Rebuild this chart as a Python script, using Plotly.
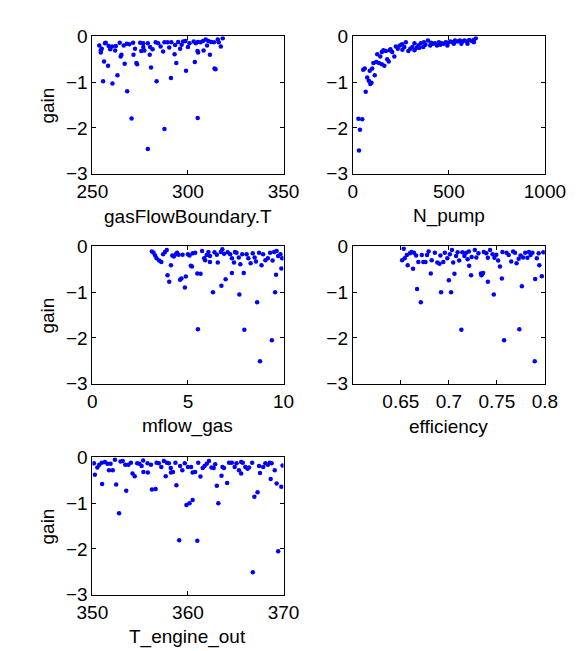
import plotly.graph_objects as go

# ---------------- data ----------------
gasT = [279.0, 270.5, 287.7, 305.1, 268.2, 255.6, 260.5, 263.1, 283.6, 291.1, 299.0, 313.9, 314.4,
        256.1, 258.2, 266.9, 273.0, 273.4, 280.7, 293.9, 303.6, 271.5, 264.8, 265.2, 311.5, 308.2,
        305.0, 305.3, 293.0, 280.0, 287.0,
        253.6, 254.4, 254.4, 254.9, 257.0, 258.5, 259.3, 260.3, 262.3, 261.9, 264.3, 266.4, 268.0,
        269.3, 271.3, 272.3, 275.0, 276.6, 275.6, 277.2, 279.0, 280.2, 281.5, 283.1, 284.4, 285.7,
        287.7, 289.3, 290.2, 291.3, 293.3, 294.9, 295.9, 297.5, 298.7, 300.0, 300.8, 303.0, 304.1,
        305.2, 306.6, 307.9, 309.3, 310.7, 312.1, 313.6, 315.6, 316.1, 317.2, 318.2, 276.6, 296.7,
        310.0, 256.6]
gain_gasT = [-2.46, -1.79, -2.02, -1.78, -1.20, -0.98, -1.03, -0.85, -0.98, -0.91, -0.75, -0.70, -0.72,
             -0.55, -0.64, -0.60, -0.58, -0.61, -0.68, -0.58, -0.56, -0.40, -0.44, -0.40, -0.40, -0.31,
             -0.32, -0.35, -0.39, -0.40, -0.33,
             -0.20, -0.30, -0.35, -0.27, -0.14, -0.21, -0.28, -0.22, -0.21, -0.31, -0.14, -0.20, -0.16,
             -0.17, -0.14, -0.27, -0.14, -0.15, -0.32, -0.31, -0.15, -0.23, -0.28, -0.13, -0.15, -0.22,
             -0.13, -0.13, -0.24, -0.13, -0.19, -0.12, -0.27, -0.11, -0.10, -0.23, -0.15, -0.11, -0.15,
             -0.12, -0.13, -0.10, -0.07, -0.10, -0.12, -0.13, -0.07, -0.13, -0.22, -0.04, -0.23, -0.18,
             -0.20, -0.15]

npump = [32, 37, 29, 49, 67, 54, 62, 75, 83, 91, 97, 114, 88, 101, 107, 122, 136, 151, 164, 127, 151,
         159, 179, 187, 192, 205, 216, 224, 234, 245, 258, 268, 276, 289, 299, 310, 321, 333, 341, 354,
         367, 378, 391, 403, 416, 427, 438, 448, 461, 472, 484, 495, 508, 519, 532, 545, 557, 570, 581,
         594, 606, 619, 630, 640, 370, 407, 455, 492, 526, 565, 597, 630, 196, 143, 172, 256, 321, 347]
gain_npump = [-2.49, -2.04, -1.80, -1.81, -1.21, -0.73, -0.70, -0.90, -0.97, -1.04, -1.01, -0.85, -0.75,
              -0.70, -0.58, -0.56, -0.58, -0.61, -0.64, -0.39, -0.34, -0.30, -0.50, -0.55, -0.30, -0.34,
              -0.44, -0.22, -0.27, -0.20, -0.29, -0.23, -0.13, -0.32, -0.27, -0.23, -0.15, -0.25, -0.20,
              -0.15, -0.23, -0.18, -0.09, -0.20, -0.16, -0.15, -0.20, -0.13, -0.15, -0.16, -0.13, -0.14,
              -0.11, -0.13, -0.09, -0.11, -0.09, -0.11, -0.09, -0.11, -0.08, -0.10, -0.08, -0.04, -0.13,
              -0.14, -0.18, -0.20, -0.16, -0.16, -0.16, -0.13, -0.28, -0.44, -0.32, -0.17, -0.30, -0.25]

mflow = [8.77, 9.39, 5.52, 7.95, 7.69, 8.62, 9.56, 6.31, 6.75, 6.97, 7.30, 7.92, 5.49, 5.66, 4.84, 4.59,
         4.66, 4.89, 3.93, 4.02, 4.11, 5.15, 5.21, 9.61, 9.89, 8.85, 7.74, 6.56, 6.15, 5.90, 3.61, 3.49,
         3.36, 3.28, 3.11, 3.20, 3.70, 3.80, 3.89, 4.18, 4.26, 4.36, 4.43, 4.51, 4.72, 5.00, 5.08, 5.25,
         5.38, 5.74, 5.85, 5.98, 6.15, 6.39, 6.51, 6.72, 6.80, 6.89, 7.08, 7.21, 7.30, 7.41, 7.54, 7.66,
         7.84, 8.07, 8.16, 8.28, 8.39, 8.49, 8.56, 8.72, 8.93, 9.05, 9.18, 9.30, 9.43, 9.51, 9.64, 9.72,
         9.84, 9.93, 6.07, 7.46]
gain_mflow = [-2.51, -2.05, -1.81, -1.82, -1.05, -1.22, -1.00, -1.00, -0.86, -0.72, -0.58, -0.58, -0.59,
              -0.60, -0.90, -0.73, -0.70, -0.66, -0.63, -0.77, -0.41, -0.42, -0.44, -0.62, -0.48, -0.41,
              -0.39, -0.35, -0.34, -0.30, -0.34, -0.31, -0.26, -0.20, -0.11, -0.14, -0.17, -0.12, -0.08,
              -0.20, -0.22, -0.17, -0.14, -0.18, -0.18, -0.17, -0.20, -0.15, -0.14, -0.10, -0.26, -0.19,
              -0.21, -0.13, -0.18, -0.12, -0.06, -0.16, -0.13, -0.17, -0.26, -0.35, -0.14, -0.24, -0.17,
              -0.17, -0.26, -0.37, -0.15, -0.24, -0.33, -0.14, -0.17, -0.30, -0.26, -0.14, -0.31, -0.12,
              -0.10, -0.21, -0.17, -0.26, -0.12, -0.12]

eff = [0.7894, 0.7575, 0.7130, 0.7734, 0.6708, 0.6669, 0.6919, 0.7023, 0.7468, 0.7760, 0.7899, 0.7968,
       0.7552, 0.7406, 0.7000, 0.6812, 0.7058, 0.7231, 0.7334, 0.7357, 0.7340, 0.7532, 0.7942, 0.7211,
       0.6627, 0.6571, 0.6513, 0.6540, 0.6530, 0.6562, 0.6594, 0.6610, 0.6636, 0.6659, 0.6682, 0.6718,
       0.6734, 0.6756, 0.6773, 0.6789, 0.6821, 0.6854, 0.6880, 0.6903, 0.6912, 0.6942, 0.6958, 0.6984,
       0.7010, 0.7032, 0.7045, 0.7075, 0.7091, 0.7107, 0.7140, 0.7162, 0.7179, 0.7195, 0.7208, 0.7237,
       0.7270, 0.7286, 0.7308, 0.7364, 0.7390, 0.7406, 0.7429, 0.7455, 0.7474, 0.7494, 0.7513, 0.7558,
       0.7601, 0.7623, 0.7649, 0.7669, 0.7688, 0.7705, 0.7727, 0.7747, 0.7773, 0.7795, 0.7818, 0.7834,
       0.7851, 0.7870, 0.7916, 0.7935, 0.7984]
gain_eff = [-2.51, -2.05, -1.82, -1.81, -1.22, -0.93, -1.00, -1.00, -1.05, -0.87, -0.71, -0.65, -0.70,
            -0.77, -0.74, -0.59, -0.60, -0.63, -0.59, -0.58, -0.63, -0.44, -0.41, -0.42, -0.49, -0.41,
            -0.30, -0.26, -0.05, -0.19, -0.15, -0.12, -0.14, -0.20, -0.34, -0.19, -0.34, -0.34, -0.19,
            -0.11, -0.30, -0.14, -0.35, -0.38, -0.20, -0.34, -0.14, -0.26, -0.17, -0.08, -0.35, -0.21,
            -0.13, -0.31, -0.13, -0.21, -0.14, -0.28, -0.11, -0.23, -0.08, -0.24, -0.15, -0.12, -0.15,
            -0.25, -0.08, -0.17, -0.25, -0.18, -0.31, -0.12, -0.14, -0.19, -0.33, -0.11, -0.14, -0.37,
            -0.27, -0.20, -0.24, -0.14, -0.25, -0.12, -0.19, -0.14, -0.26, -0.15, -0.13]

teng = [366.79, 369.44, 359.08, 360.98, 352.79, 359.84, 360.16, 360.49, 363.18, 366.95, 367.28, 356.23,
        356.62, 353.54, 351.02, 352.49, 358.79, 363.02, 364.10, 369.28, 369.77, 368.66, 350.26, 354.20,
        354.43, 357.67, 361.31, 363.51, 367.54, 365.57, 355.34, 355.80, 358.23, 360.49, 350.52, 350.16,
        350.72, 350.98, 351.31, 351.57, 351.74, 351.90, 352.13, 352.36, 352.95, 353.18, 353.44, 353.77,
        354.03, 354.69, 354.92, 355.15, 355.31, 355.77, 356.13, 356.72, 356.95, 357.21, 357.48, 357.80,
        358.00, 358.20, 358.43, 358.69, 359.18, 359.41, 359.67, 360.00, 360.33, 360.75, 361.08, 361.54,
        361.74, 361.97, 362.20, 362.46, 362.69, 362.85, 363.61, 363.77, 364.30, 364.59, 364.89, 365.08,
        365.34, 365.57, 365.74, 366.00, 366.23, 366.39, 366.72, 367.44, 367.87, 368.10, 368.36, 368.56,
        368.75, 369.08, 369.90]
gain_teng = [-2.51, -2.05, -1.81, -1.82, -1.22, -1.04, -1.00, -0.93, -1.00, -0.86, -0.76, -0.70, -0.69,
             -0.73, -0.58, -0.59, -0.61, -0.62, -0.56, -0.57, -0.64, -0.47, -0.38, -0.35, -0.41, -0.41,
             -0.42, -0.40, -0.34, -0.35, -0.32, -0.33, -0.33, -0.33, -0.22, -0.13, -0.16, -0.12, -0.10,
             -0.14, -0.28, -0.14, -0.28, -0.05, -0.09, -0.08, -0.16, -0.16, -0.12, -0.13, -0.14, -0.19,
             -0.07, -0.13, -0.16, -0.12, -0.13, -0.21, -0.08, -0.12, -0.13, -0.23, -0.32, -0.12, -0.19,
             -0.28, -0.13, -0.21, -0.21, -0.32, -0.12, -0.23, -0.19, -0.14, -0.08, -0.22, -0.23, -0.15,
             -0.21, -0.23, -0.12, -0.12, -0.21, -0.13, -0.28, -0.10, -0.12, -0.21, -0.25, -0.22, -0.12,
             -0.19, -0.21, -0.13, -0.16, -0.12, -0.13, -0.28, -0.18]

x_titles = ["gasFlowBoundary.T", "N_pump", "mflow_gas", "efficiency", "T_engine_out"]
x_ranges = [[250, 350], [0, 1000], [0, 10], [0.6, 0.8], [350, 370]]
x_ticks = [[250, 300, 350], [0, 500, 1000], [0, 5, 10], [0.65, 0.7, 0.75, 0.8], [350, 360, 370]]
x_ticktext = [["250", "300", "350"], ["0", "500", "1000"], ["0", "5", "10"],
              ["0.65", "0.7", "0.75", "0.8"], ["350", "360", "370"]]
y_ticks = [-3, -2, -1, 0]
y_ticktext = ["\u22123", "\u22122", "\u22121", "0"]
y_title = "gain"

series = [(gasT, gain_gasT), (npump, gain_npump), (mflow, gain_mflow), (eff, gain_eff), (teng, gain_teng)]

# ---------------- layout ----------------
W, H = 586, 651
FONT = "Liberation Sans, Arial, Helvetica, sans-serif"
FS = 19
cols = [(73, 277), (351, 556)]
rows = [(19, 161), (236, 378), (454, 596)]
cells = [(0, 0), (0, 1), (1, 0), (1, 1), (2, 0)]

fig = go.Figure()
annotations = []
layout_axes = {}
for i, ((xs, ys), (r, c)) in enumerate(zip(series, cells)):
    n = i + 1
    xa = "x" if n == 1 else f"x{n}"
    ya = "y" if n == 1 else f"y{n}"
    fig.add_trace(go.Scatter(x=xs, y=ys, mode="markers", xaxis=xa, yaxis=ya,
                             marker=dict(color="#0000ff", size=4.5), showlegend=False,
                             hoverinfo="skip"))
    x0, x1 = cols[c]
    yt, yb = rows[r]
    common = dict(showline=True, linecolor="black", linewidth=1, mirror="ticks",
                  ticks="inside", ticklen=4, tickcolor="black", showgrid=False,
                  zeroline=False, tickfont=dict(family=FONT, size=FS, color="black"),
                  fixedrange=True)
    layout_axes[f"xaxis{'' if n == 1 else n}"] = dict(
        domain=[x0 / W, x1 / W], range=x_ranges[i], tickvals=x_ticks[i],
        ticktext=x_ticktext[i], anchor=ya, **common)
    layout_axes[f"yaxis{'' if n == 1 else n}"] = dict(
        domain=[1 - yb / H, 1 - yt / H], range=[-3, 0], tickvals=y_ticks,
        ticktext=y_ticktext, anchor=xa, **common)
    # x title
    annotations.append(dict(text=x_titles[i], xref="paper", yref="paper",
                            x=(x0 + x1) / 2 / W, y=1 - (yb + 44) / H,
                            xanchor="center", yanchor="middle", showarrow=False,
                            font=dict(family=FONT, size=FS, color="black")))
    if c == 0:
        annotations.append(dict(text=y_title, xref="paper", yref="paper",
                                x=25 / W, y=1 - (yt + yb) / 2 / H, textangle=-90,
                                xanchor="center", yanchor="middle", showarrow=False,
                                font=dict(family=FONT, size=FS, color="black")))

fig.update_layout(width=W, height=H, margin=dict(l=0, r=0, t=0, b=0),
                  paper_bgcolor="white", plot_bgcolor="white",
                  annotations=annotations, **layout_axes)

fig.write_html("out.html")
